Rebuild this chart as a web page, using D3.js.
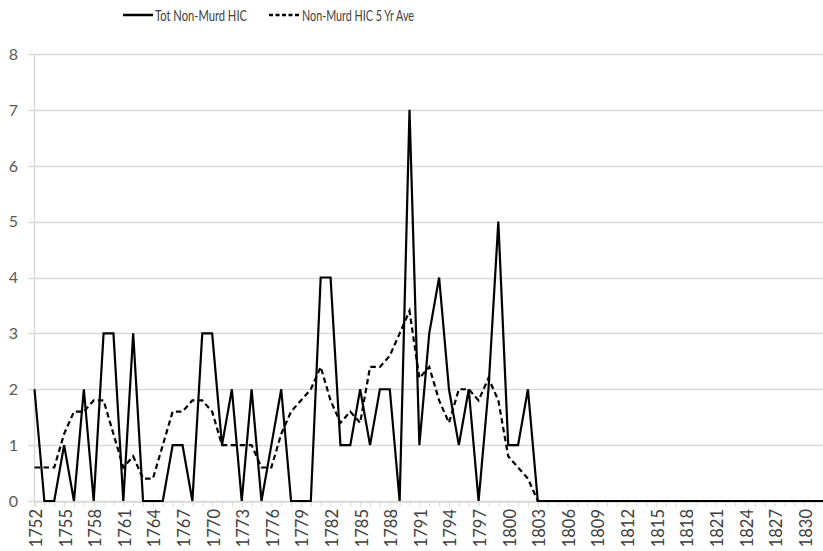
<!DOCTYPE html>
<html>
<head>
<meta charset="utf-8">
<script src="https://cdn.jsdelivr.net/npm/d3@7"></script>
<style>
  body { margin: 0; background: #fff; }
  text { font-family: Lato, "Open Sans", sans-serif; }
</style>
</head>
<body>
<div id="chart"></div>
<script>
// data
var years = d3.range(1752, 1833);
var totNonMurd = [
    2, 0, 0, 1, 0, 2, 0, 3, 3, 0,
    3, 0, 0, 0, 1, 1, 0, 3, 3, 1,
    2, 0, 2, 0, 1, 2, 0, 0, 0, 4,
    4, 1, 1, 2, 1, 2, 2, 0, 7, 1,
    3, 4, 2, 1, 2, 0, 2, 5, 1, 1,
    2, 0, 0, 0, 0, 0, 0, 0, 0, 0,
    0, 0, 0, 0, 0, 0, 0, 0, 0, 0,
    0, 0, 0, 0, 0, 0, 0, 0, 0, 0,
    0
];
var aveNonMurd = [
    0.6, 0.6, 0.6, 1.2, 1.6, 1.6, 1.8, 1.8, 1.2, 0.6,
    0.8, 0.4, 0.4, 1.0, 1.6, 1.6, 1.8, 1.8, 1.6, 1.0,
    1.0, 1.0, 1.0, 0.6, 0.6, 1.2, 1.6, 1.8, 2.0, 2.4,
    1.8, 1.4, 1.6, 1.4, 2.4, 2.4, 2.6, 3.0, 3.4, 2.2,
    2.4, 1.8, 1.4, 2.0, 2.0, 1.8, 2.2, 1.8, 0.8, 0.6,
    0.4, 0, 0, 0, 0, 0, 0, 0, 0, 0,
    0, 0, 0, 0, 0, 0, 0, 0, 0, 0,
    0, 0, 0, 0, 0, 0, 0, 0, 0, 0,
    0
];
var labelYears = [1752, 1755, 1758, 1761, 1764, 1767, 1770, 1773, 1776, 1779,
    1782, 1785, 1788, 1791, 1794, 1797, 1800, 1803, 1806, 1809, 1812, 1815,
    1818, 1821, 1824, 1827, 1830];
var yTicks = [0, 1, 2, 3, 4, 5, 6, 7, 8];
var seriesNames = ["Tot Non-Murd HIC", "Non-Murd HIC 5 Yr Ave"];

var svgWidth = 823;
var svgHeight = 551;

var svg = d3.select("#chart")
    .append("svg")
    .attr("width", svgWidth)
    .attr("height", svgHeight);

// scales
var x = d3.scaleLinear()
    .domain([1752, 1832])
    .range([34.5, 824]);

var y = d3.scaleLinear()
    .domain([0, 8])
    .range([501, 54]);

// horizontal gridlines (with little stubs left of the axis)
svg.append("g")
    .selectAll("line")
    .data(yTicks)
    .enter()
    .append("line")
    .attr("x1", 28)
    .attr("x2", svgWidth)
    .attr("y1", d => Math.round(y(d)) + 0.5)
    .attr("y2", d => Math.round(y(d)) + 0.5)
    .attr("stroke", "#d9d9d9")
    .attr("stroke-width", 1.5);

// y axis line
svg.append("line")
    .attr("x1", 34.5).attr("x2", 34.5)
    .attr("y1", y(8)).attr("y2", y(0))
    .attr("stroke", "#d9d9d9")
    .attr("stroke-width", 1.5);

// y labels
svg.append("g")
    .selectAll("text")
    .data(yTicks)
    .enter()
    .append("text")
    .attr("x", 18)
    .attr("y", d => y(d))
    .attr("dy", "0.36em")
    .attr("text-anchor", "end")
    .attr("font-size", 16)
    .attr("fill", "#595959")
    .text(d => d);

// x axis: small tick for every year
var xAxis = svg.append("g")
    .attr("transform", `translate(0, ${Math.round(y(0)) + 0.5})`)
    .call(d3.axisBottom(x).tickValues(years).tickSize(5).tickFormat(""));
xAxis.select(".domain").attr("stroke", "#d9d9d9").attr("stroke-width", 1.5);
xAxis.selectAll(".tick line").attr("stroke", "#d9d9d9");

// x labels every three years, rotated
svg.append("g")
    .selectAll("text")
    .data(labelYears)
    .enter()
    .append("text")
    .attr("transform", d => `translate(${x(d) + 1.5}, 509) rotate(-90)`)
    .attr("dy", "0.36em")
    .attr("text-anchor", "end")
    .attr("font-size", 16.5)
    .attr("fill", "#404040")
    .text(d => d);

// lines
var line = d3.line()
    .x((d, i) => x(years[i]))
    .y(d => y(d));

svg.append("path")
    .datum(aveNonMurd)
    .attr("d", line)
    .attr("fill", "none")
    .attr("stroke", "#000")
    .attr("stroke-width", 2.2)
    .attr("stroke-dasharray", "5.5,3.5");

svg.append("path")
    .datum(totNonMurd)
    .attr("d", line)
    .attr("fill", "none")
    .attr("stroke", "#000")
    .attr("stroke-width", 2.2)
    .attr("stroke-linejoin", "miter");

// legend
var legend = svg.append("g");

legend.append("line")
    .attr("x1", 123).attr("x2", 153)
    .attr("y1", 15).attr("y2", 15)
    .attr("stroke", "#000")
    .attr("stroke-width", 2.5);

legend.append("text")
    .attr("x", 155)
    .attr("y", 15)
    .attr("dy", "0.36em")
    .attr("font-size", 16)
    .attr("fill", "#404040")
    .attr("textLength", 92)
    .attr("lengthAdjust", "spacingAndGlyphs")
    .text(seriesNames[0]);

legend.append("line")
    .attr("x1", 269).attr("x2", 300)
    .attr("y1", 15).attr("y2", 15)
    .attr("stroke", "#000")
    .attr("stroke-width", 2.5)
    .attr("stroke-dasharray", "4,2.5");

legend.append("text")
    .attr("x", 302)
    .attr("y", 15)
    .attr("dy", "0.36em")
    .attr("font-size", 16)
    .attr("fill", "#404040")
    .attr("textLength", 112)
    .attr("lengthAdjust", "spacingAndGlyphs")
    .text(seriesNames[1]);
</script>
</body>
</html>
